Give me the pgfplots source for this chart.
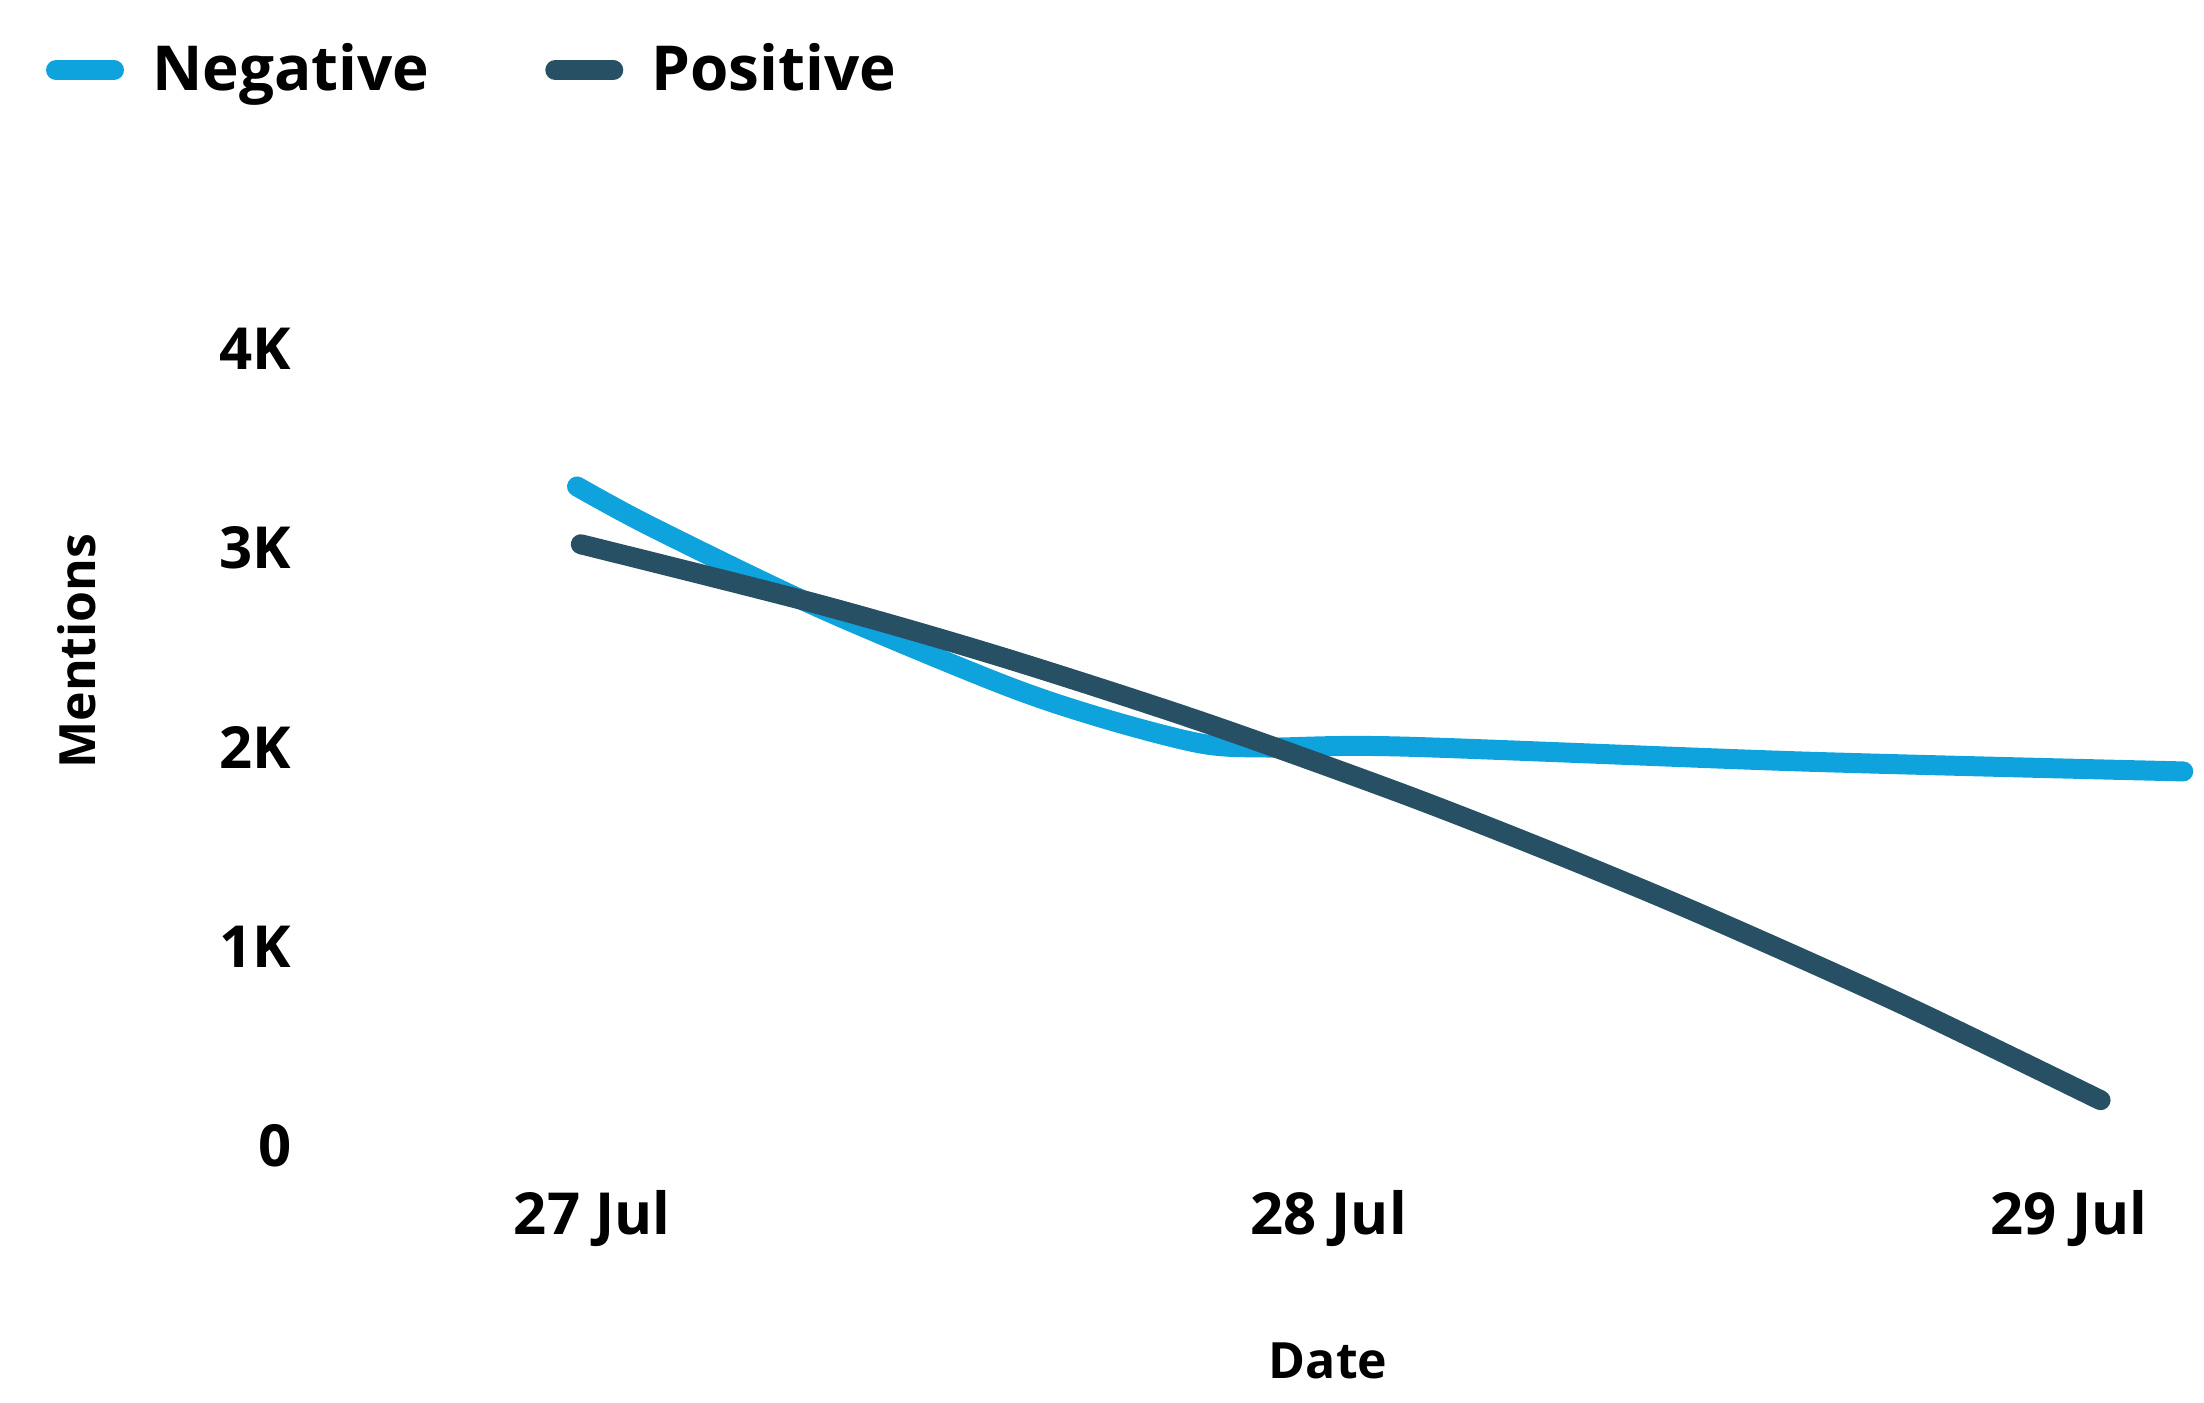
\documentclass[border=0pt]{standalone}
\usepackage{fontspec}
\setmainfont{Open Sans}
\usepackage{pgfplots}
\pgfplotsset{compat=1.18}
\definecolor{negc}{HTML}{0FA3DE}
\definecolor{posc}{HTML}{275064}
\begin{document}
\begin{tikzpicture}
\begin{axis}[
  scale only axis,
  width=469.75pt, height=199.25pt,
  xmin=-0.35, xmax=2.15,
  ymin=0, ymax=4000,
  clip=false,
  axis line style={draw=none},
  major tick length=0pt,
  tick style={draw=none},
  xtick={0.02,1,1.985},
  xticklabels={27 Jul,28 Jul,29 Jul},
  ytick={0,1000,2000,3000,4000},
  yticklabels={0,1K,2K,3K,4K},
  xticklabel style={font=\fontsize{14.5}{16}\bfseries, anchor=base, inner sep=0pt, yshift=-22pt},
  yticklabel style={font=\fontsize{14.5}{16}\bfseries, anchor=east, inner sep=0pt, xshift=-5.5pt},
  xlabel={Date},
  ylabel={Mentions},
  xlabel style={font=\fontsize{12.5}{14}\bfseries, at={(axis description cs:0.5397,-0.27)}, anchor=center},
  ylabel style={font=\fontsize{12.5}{14}\bfseries, at={(axis description cs:-0.126,0.621)}, anchor=center},
  legend columns=2,
  legend style={draw=none, fill=none, at={(axis description cs:-0.1426,1.350)}, anchor=west,
    inner sep=0pt, outer sep=0pt,
    font=\fontsize{15.5}{17}\bfseries,
    nodes={inner sep=0pt},
    /tikz/every odd column/.append style={column sep=7pt},
    /tikz/every even column/.append style={column sep=29pt}},
  legend image code/.code={\draw[#1, line width=5pt, line cap=round] (0pt,0pt) -- (14.5pt,0pt);},
]
\addplot[negc, line width=5pt, line cap=round, smooth] coordinates {
 (0,3310) (0.098,3110) (0.32,2705) (0.564,2320) (0.697,2150) (0.83,2020) (0.919,2000) (1.096,2005) (1.628,1930) (2.137,1880)
};
\addlegendentry{Negative}
\addplot[posc, line width=5pt, line cap=round, smooth] coordinates {
 (0.005,3020) (0.32,2720) (0.564,2455) (0.83,2131) (1.096,1771) (1.295,1478) (1.495,1164) (1.76,717) (2.027,230)
};
\addlegendentry{Positive}
\path (axis description cs:-0.1671,-0.3212) rectangle (axis description cs:1.00585,1.4379);
\end{axis}
\end{tikzpicture}
\end{document}
